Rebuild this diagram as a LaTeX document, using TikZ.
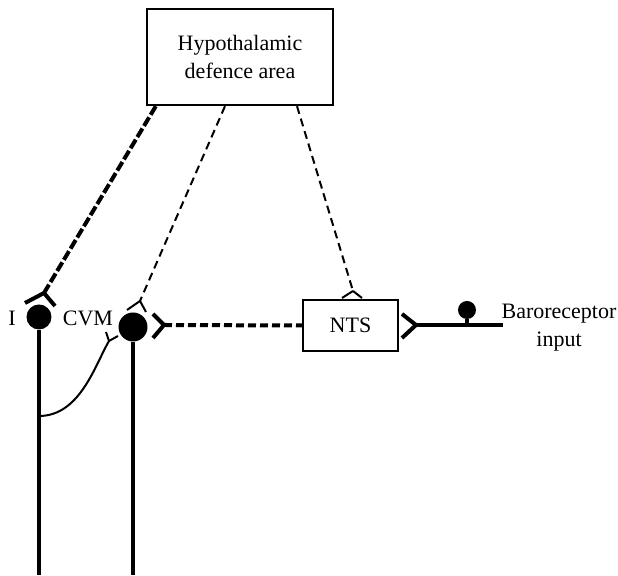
\documentclass[tikz,border=0pt]{standalone}
\usepackage{fontspec}
\setmainfont{Liberation Serif}
\usepackage{tikz}
\usetikzlibrary{positioning}
\tikzset{
  box/.style={draw, line width=1.2pt, align=center, inner sep=0pt},
  soma/.style={circle, fill=black, inner sep=0pt},
  axon/.style={line width=2pt},
  thinaxon/.style={line width=1pt},
  thindash/.style={line width=1pt, dash pattern=on 4pt off 2.5pt},
  thickdash/.style={line width=2pt, dash pattern=on 5pt off 1.5pt},
  label/.style={font=\fontsize{11}{14}\selectfont, align=center, inner sep=0pt},
}

\begin{document}
\begin{tikzpicture}[x=0.5pt, y=-0.5pt]
            \useasboundingbox (0,0) rectangle (618,576);
            % Boxes
            \node[box, label, minimum width=93pt, minimum height=48pt] (hypo) at (240,57) {Hypothalamic\\defence area};
            \node[box, label, minimum width=47.5pt, minimum height=25.5pt] (nts) at (350.5,325.5) {NTS};
            % Cell bodies
            \node[soma, minimum size=12.5pt] (iSoma)   at (39,317)  {};
            \node[soma, minimum size=14.5pt] (cvmSoma) at (133,327) {};
            \node[soma, minimum size=9pt]  (baroSoma) at (467,310) {};
            \node[label] (iLab)   at (12,318) {I};
            \node[label] (cvmLab) at (88,318) {CVM};
            \node[label] (baroLab) at (559,328) {Baroreceptor\\input};
            % Terminals and ends
            \coordinate (hI)    at ([xshift=5pt]hypo.south west);
            \coordinate (hCvm)  at ([xshift=-7.5pt]hypo.south);
            \coordinate (hNts)  at ([xshift=28.5pt]hypo.south);
            \coordinate (iTerm)   at (44,293);
            \coordinate (cvmTerm) at (140,301);
            \coordinate (ntsTerm) at (353,291);
            \coordinate (cvmOut)  at (164,325);
            \coordinate (ntsOut)  at (416,325);
            \coordinate (baroEnd) at (503,325);
            \coordinate (iEnd)    at (39,575);
            \coordinate (cvmEnd)  at (133,575);
            \coordinate (iBranch) at (39,416);
            \coordinate (colTerm) at (109,341);
            % Axons
            \draw[axon] (iSoma.south) -- (iEnd);
            \draw[axon] (cvmSoma.south) -- (cvmEnd);
            \draw[thinaxon] (iBranch) .. controls (80,416) and (95,365) .. (colTerm);
            \draw[thinaxon] (colTerm) -- ++(-3,-9);
            \draw[thinaxon] (colTerm) -- ++(9,-5);
            % Descending pathways
            \draw[thickdash] (hI) -- (iTerm);
            \draw[axon] (iTerm) -- ++(-19,10);
            \draw[axon] (iTerm) -- ++(11,13);
            \draw[thindash] (hCvm) -- (cvmTerm);
            \draw[thinaxon] (cvmTerm) -- ++(-13,9);
            \draw[thinaxon] (cvmTerm) -- ++(6,11);
            \draw[thindash] (hNts) -- (ntsTerm);
            \draw[thinaxon] (ntsTerm) -- ++(-11,7);
            \draw[thinaxon] (ntsTerm) -- ++(9,7);
            % NTS to CVM
            \draw[thickdash, dash pattern=on 4pt off 2pt] (cvmOut) -- (nts.west);
            \draw[axon] (cvmOut) -- ++(-11,-11);
            \draw[axon] (cvmOut) -- ++(-11,13);
            % Baroreceptor input
            \draw[axon] (ntsOut) -- (baroEnd);
            \draw[axon] (ntsOut) -- ++(-14,-11);
            \draw[axon] (ntsOut) -- ++(-14,13);
            \draw[axon] (baroSoma.south) -- (baroSoma.south |- baroEnd);
        \end{tikzpicture}
\end{document}
